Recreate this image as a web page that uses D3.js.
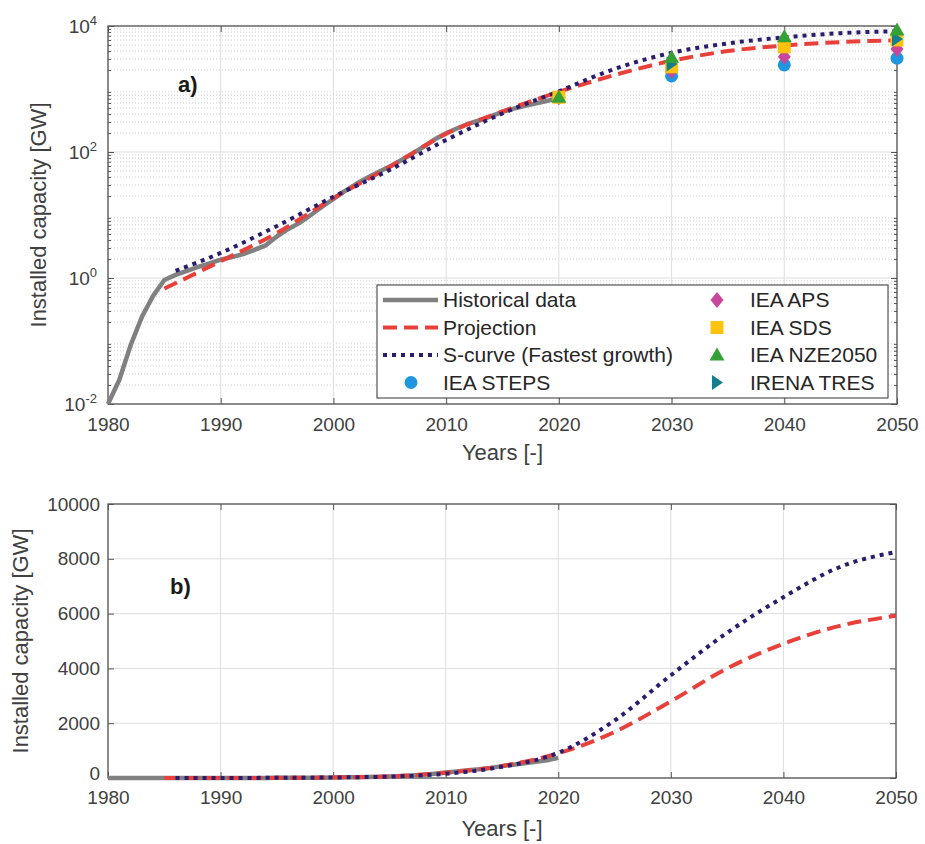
<!DOCTYPE html>
<html>
<head>
<meta charset="utf-8">
<script src="https://cdn.jsdelivr.net/npm/d3@7"></script>
<style>
  body { margin: 0; background: #fff; }
  text { font-family: "Liberation Sans", Arial, sans-serif; }
</style>
</head>
<body>
<div id="chart"></div>
<script>
// ---- data ----
const histYears = [1980,1981,1982,1983,1984,1985,1986,1987,1988,1989,1990,1991,1992,1993,1994,1995,1996,1997,1998,1999,2000,
                   2001,2002,2003,2004,2005,2006,2007,2008,2009,2010,2011,2012,2013,2014,2015,2016,2017,2018,2019,2020];
const histValues = [0.01,0.024,0.085,0.24,0.52,0.93,1.12,1.3,1.5,1.7,1.95,2.15,2.4,2.8,3.3,4.6,6.0,7.5,10,13.5,18,
                    24,31,39,48,59,74,94,121,159,198,238,283,319,370,433,487,540,591,650,733];

const projYears = [1985,1990,1995,2000,2005,2010,2015,2020,2025,2030,2035,2040,2045,2050];
const projValues = [0.68,1.85,5.2,18.5,58,195,440,900,1680,2800,4000,4900,5550,5920];

const sYears = [1986,1990,1995,2000,2005,2010,2015,2020,2025,2030,2035,2040,2045,2050];
const sValues = [1.3,2.5,6.7,19.5,52,155,410,920,2100,3750,5300,6600,7700,8250];

const scenYears = [2020,2030,2040,2050];
const stepsValues = [740,1610,2410,3080];
const apsValues = [740,1950,3260,4300];
const sdsValues = [740,2250,4680,6000];
const nzeValues = [740,3180,6770,8650];
const tresYears = [2030,2050];
const tresValues = [2500,6200];

const xTicks = [1980,1990,2000,2010,2020,2030,2040,2050];
const logTicks = [1e-2,1e0,1e2,1e4];
const linTicks = [0,2000,4000,6000,8000,10000];

// ---- styles ----
const C = {
  hist: '#808080', proj: '#E8403A', scurve: '#2B1C6E',
  steps: '#1F97DE', aps: '#C8479B', sds: '#FFC20E', nze: '#35A035', tres: '#137E8E',
  axis: '#555', grid: '#dedede', minor: '#c4c4c4', text: '#404040'
};

const svg = d3.select('#chart').append('svg')
  .attr('width', 925).attr('height', 844);

// marker shapes
function markerPath(type) {
  switch (type) {
    case 'circle':  return 'M6.5,0A6.5,6.5 0 1,1 -6.5,0A6.5,6.5 0 1,1 6.5,0Z';
    case 'square':  return 'M-6.5,-6.5H6.5V6.5H-6.5Z';
    case 'diamond': return 'M0,-8L6.5,0L0,8L-6.5,0Z';
    case 'up':      return 'M0,-7.5L7.5,5.5L-7.5,5.5Z';
    case 'right':   return 'M6,0L-5,-7.5L-5,7.5Z';
  }
}

const series = [
  { name: 'IEA STEPS',   years: scenYears, values: stepsValues, color: C.steps, shape: 'circle' },
  { name: 'IEA APS',     years: scenYears, values: apsValues,   color: C.aps,   shape: 'diamond' },
  { name: 'IEA SDS',     years: scenYears, values: sdsValues,   color: C.sds,   shape: 'square' },
  { name: 'IRENA TRES',  years: tresYears, values: tresValues,  color: C.tres,  shape: 'right' },
  { name: 'IEA NZE2050', years: scenYears, values: nzeValues,   color: C.nze,   shape: 'up' }
];

const zip = (a, b) => a.map((d, i) => [d, b[i]]);

function styleTicks(g, fontSize) {
  g.select('.domain').remove();
  g.selectAll('line').attr('stroke', C.axis).attr('stroke-width', 1);
  g.selectAll('text').attr('fill', C.text).attr('font-size', fontSize)
    .attr('font-family', '"Liberation Sans", Arial, sans-serif');
}

function drawPanel(x, y, opts) {
  const g = svg.append('g');
  const [xl, xr] = x.range();
  const [yb, yt] = y.range();

  // grid
  if (opts.minor) {
    g.selectAll('.ym').data(opts.minor).join('line')
      .attr('x1', xl).attr('x2', xr)
      .attr('y1', d => y(d)).attr('y2', d => y(d))
      .attr('stroke', C.minor).attr('stroke-width', 0.8)
      .attr('stroke-dasharray', '1 2');
  }
  g.selectAll('.yg').data(opts.yTicks).join('line')
    .attr('x1', xl).attr('x2', xr)
    .attr('y1', d => y(d)).attr('y2', d => y(d))
    .attr('stroke', C.grid).attr('stroke-width', 1);
  g.selectAll('.xg').data(xTicks).join('line')
    .attr('x1', d => x(d)).attr('x2', d => x(d))
    .attr('y1', yt).attr('y2', yb)
    .attr('stroke', C.grid).attr('stroke-width', 1);

  // axes
  const bot = g.append('g').attr('transform', `translate(0,${yb})`)
    .call(d3.axisBottom(x).tickValues(xTicks).tickFormat(d3.format('d'))
      .tickSize(-6).tickPadding(opts.xPad));
  styleTicks(bot, 19);
  const topAx = g.append('g').attr('transform', `translate(0,${yt})`)
    .call(d3.axisTop(x).tickValues(xTicks).tickFormat('').tickSize(-6));
  styleTicks(topAx, 19);

  const left = g.append('g').attr('transform', `translate(${xl},0)`)
    .call(d3.axisLeft(y).tickValues(opts.yTicks).tickSize(-6).tickPadding(opts.yPad)
      .tickFormat(opts.log ? '' : d3.format('d')));
  styleTicks(left, 19);
  const right = g.append('g').attr('transform', `translate(${xr},0)`)
    .call(d3.axisRight(y).tickValues(opts.yTicks).tickSize(-6).tickFormat(''));
  styleTicks(right, 19);

  if (opts.log) {
    left.selectAll('text').each(function (d) {
      const t = d3.select(this);
      t.append('tspan').text('10');
      t.append('tspan').attr('dy', '-0.6em').attr('font-size', 13)
        .text(Math.round(Math.log10(d)));
    });
    g.append('g').attr('transform', `translate(${xl},0)`)
      .call(d3.axisLeft(y).tickValues(opts.minor).tickSize(-3).tickFormat(''))
      .call(s => styleTicks(s, 19));
    g.append('g').attr('transform', `translate(${xr},0)`)
      .call(d3.axisRight(y).tickValues(opts.minor).tickSize(-3).tickFormat(''))
      .call(s => styleTicks(s, 19));
  } else {
    // lift the "0" label a little so it clears the x tick labels
    left.selectAll('text').filter(d => d === 0).attr('dy', '0.1em');
  }

  // box
  g.append('rect').attr('x', xl).attr('y', yt)
    .attr('width', xr - xl).attr('height', yb - yt)
    .attr('fill', 'none').attr('stroke', C.axis).attr('stroke-width', 1.3);

  // labels
  g.append('text').attr('x', (xl + xr) / 2).attr('y', opts.xLabelY)
    .attr('text-anchor', 'middle').attr('font-size', 22).attr('fill', C.text)
    .text('Years [-]');
  g.append('text')
    .attr('transform', `translate(${opts.yLabelX},${(yt + yb) / 2}) rotate(-90)`)
    .attr('text-anchor', 'middle').attr('font-size', 22).attr('fill', C.text)
    .text('Installed capacity [GW]');
  g.append('text').attr('x', opts.tagX).attr('y', opts.tagY)
    .attr('font-size', 22).attr('font-weight', 'bold').attr('fill', '#1a1a1a')
    .text(opts.tag);

  // data lines
  const line = d3.line().x(d => x(d[0])).y(d => y(d[1]));
  g.append('path').datum(zip(histYears, histValues))
    .attr('d', line.curve(d3.curveLinear))
    .attr('fill', 'none').attr('stroke', C.hist).attr('stroke-width', 4.5)
    .attr('stroke-linejoin', 'round');
  g.append('path').datum(zip(projYears, projValues))
    .attr('d', line.curve(d3.curveMonotoneX))
    .attr('fill', 'none').attr('stroke', C.proj).attr('stroke-width', 4)
    .attr('stroke-dasharray', '14 7');
  g.append('path').datum(zip(sYears, sValues))
    .attr('d', line.curve(d3.curveMonotoneX))
    .attr('fill', 'none').attr('stroke', C.scurve).attr('stroke-width', 4)
    .attr('stroke-dasharray', '4 5');

  if (opts.markers) {
    series.forEach(s => {
      g.selectAll(null).data(zip(s.years, s.values)).join('path')
        .attr('transform', d => `translate(${x(d[0])},${y(d[1])})`)
        .attr('d', markerPath(s.shape))
        .attr('fill', s.color);
    });
  }
  return g;
}

// ---- panel a) log scale ----
const xA = d3.scaleLinear().domain([1980, 2050]).range([108, 897]);
const yA = d3.scaleLog().domain([1e-2, 1e4]).range([404, 26]);
const minorLog = [];
logTicks.concat([1e-1, 1e1, 1e3]).forEach(p => {
  if (p < 1e4) [2,3,4,5,6,7,8,9].forEach(m => minorLog.push(m * p));
});

const gA = drawPanel(xA, yA, {
  log: true, yTicks: logTicks, minor: minorLog, markers: true,
  xPad: 14, yPad: 11, xLabelY: 460, yLabelX: 46, tag: 'a)', tagX: 178, tagY: 92
});

// legend
const leg = gA.append('g');
leg.append('rect').attr('x', 377).attr('y', 285).attr('width', 511).attr('height', 113)
  .attr('fill', '#fff').attr('stroke', '#333').attr('stroke-width', 1);
const rowY = [300, 327.5, 355, 382.5];
const lineItems = [
  { name: 'Historical data', color: C.hist, w: 4.5, dash: null },
  { name: 'Projection', color: C.proj, w: 4, dash: '14 7' },
  { name: 'S-curve (Fastest growth)', color: C.scurve, w: 4, dash: '4 5' }
];
lineItems.forEach((it, i) => {
  leg.append('line').attr('x1', 383).attr('x2', 438).attr('y1', rowY[i]).attr('y2', rowY[i])
    .attr('stroke', it.color).attr('stroke-width', it.w)
    .attr('stroke-dasharray', it.dash);
  leg.append('text').attr('x', 443).attr('y', rowY[i]).attr('dy', '0.35em')
    .attr('font-size', 21).attr('fill', '#262626').text(it.name);
});
const legMarkers = [
  { s: series[0], x: 411, tx: 443, y: rowY[3] },
  { s: series[1], x: 717, tx: 750, y: rowY[0] },
  { s: series[2], x: 717, tx: 750, y: rowY[1] },
  { s: series[4], x: 717, tx: 750, y: rowY[2] },
  { s: series[3], x: 717, tx: 750, y: rowY[3] }
];
legMarkers.forEach(m => {
  leg.append('path').attr('transform', `translate(${m.x},${m.y})`)
    .attr('d', markerPath(m.s.shape)).attr('fill', m.s.color);
  leg.append('text').attr('x', m.tx).attr('y', m.y).attr('dy', '0.35em')
    .attr('font-size', 21).attr('fill', '#262626').text(m.s.name);
});

// ---- panel b) linear scale ----
const xB = d3.scaleLinear().domain([1980, 2050]).range([108, 896]);
const yB = d3.scaleLinear().domain([0, 10000]).range([778, 504]);
drawPanel(xB, yB, {
  log: false, yTicks: linTicks, minor: null, markers: false,
  xPad: 13, yPad: 8, xLabelY: 836, yLabelX: 28, tag: 'b)', tagX: 170, tagY: 594
});
</script>
</body>
</html>
